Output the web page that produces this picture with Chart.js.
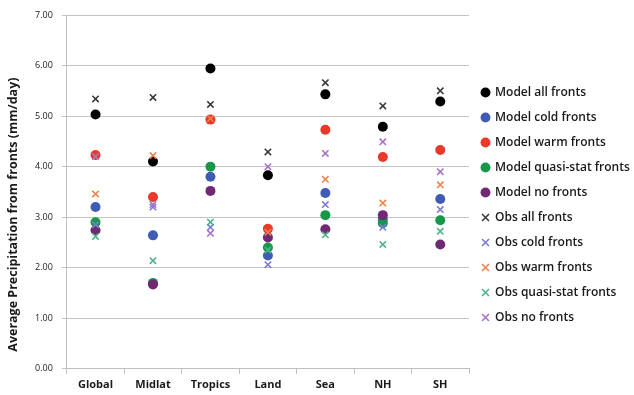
<!DOCTYPE html>
<html>
<head>
<meta charset="utf-8">
<script src="https://cdn.jsdelivr.net/npm/chart.js@4"></script>
<style>
html,body{margin:0;padding:0;background:#fff;}
#wrap{width:634px;height:395px;}
</style>
</head>
<body>
<div id="wrap"><canvas id="c" width="634" height="395"></canvas></div>
<script>
const categories = ['Global','Midlat','Tropics','Land','Sea','NH','SH'];
const yTicks = [0,1,2,3,4,5,6,7];

const modelAll   = [5.03, 4.10, 5.94, 3.83, 5.43, 4.79, 5.29];
const modelCold  = [3.20, 2.64, 3.80, 2.24, 3.48, 2.95, 3.36];
const modelWarm  = [4.23, 3.40, 4.93, 2.77, 4.73, 4.19, 4.33];
const modelQuasi = [2.90, 1.70, 4.00, 2.40, 3.04, 2.88, 2.94];
const modelNo    = [2.74, 1.67, 3.52, 2.60, 2.76, 3.04, 2.46];
const obsAll     = [5.34, 5.37, 5.23, 4.29, 5.66, 5.20, 5.50];
const obsCold    = [2.85, 3.20, 2.80, 2.06, 3.25, 2.80, 3.15];
const obsWarm    = [3.46, 4.22, 4.95, 2.70, 3.75, 3.28, 3.64];
const obsQuasi   = [2.62, 2.14, 2.90, 2.35, 2.65, 2.46, 2.72];
const obsNo      = [4.20, 3.25, 2.68, 4.00, 4.26, 4.49, 3.90];

const seriesNames = ['Model all fronts','Model cold fronts','Model warm fronts','Model quasi-stat fronts','Model no fronts',
  'Obs all fronts','Obs cold fronts','Obs warm fronts','Obs quasi-stat fronts','Obs no fronts'];
const seriesData = [modelAll, modelCold, modelWarm, modelQuasi, modelNo, obsAll, obsCold, obsWarm, obsQuasi, obsNo];
const seriesColors = ['#000000','#3F5BB5','#E8392B','#17974A','#702A73','#3A3A3A','#7B7BD6','#F0824A','#4DB38A','#A874C4'];

const datasets = seriesNames.map((name, i) => {
  const isObs = i >= 5;
  return {
    label: name,
    data: seriesData[i],
    showLine: false,
    pointStyle: isObs ? 'crossRot' : 'circle',
    pointRadius: isObs ? 4.5 : 5,
    pointHoverRadius: isObs ? 4.5 : 5,
    pointBorderWidth: isObs ? 1.6 : 0,
    borderWidth: isObs ? 1.6 : 0,
    backgroundColor: seriesColors[i],
    borderColor: seriesColors[i],
    order: 20 - i
  };
});

const font = 'Open Sans';
new Chart(document.getElementById('c'), {
  type: 'line',
  data: { labels: categories, datasets },
  options: {
    responsive: false,
    animation: false,
    events: [],
    layout: { padding: { top: 15, left: 6, right: 0, bottom: 0 } },
    plugins: {
      tooltip: { enabled: false },
      legend: {
        position: 'right',
        align: 'center',
        maxWidth: 165,
        labels: {
          usePointStyle: true,
          boxWidth: 7,
          boxHeight: 7,
          padding: 13,
          color: '#1a1a1a',
          font: { family: font, size: 12, weight: '600' },
          sort: (a, b) => a.datasetIndex - b.datasetIndex
        }
      }
    },
    scales: {
      x: {
        type: 'category',
        offset: true,
        grid: { display: true, drawOnChartArea: false, drawTicks: true, tickLength: 5, offset: true, color: '#BFBFBF' },
        border: { display: true, color: '#BFBFBF' },
        ticks: { color: '#1a1a1a', font: { family: font, size: 11, weight: 'bold' }, padding: 4 }
      },
      y: {
        min: 0, max: 7,
        afterBuildTicks(axis) { axis.ticks = yTicks.map(v => ({ value: v })); },
        grid: { color: '#C4C4C4', lineWidth: 1, drawTicks: true, tickLength: 5 },
        border: { display: true, color: '#BFBFBF' },
        ticks: { color: '#1a1a1a', font: { family: font, size: 9 }, padding: 9,
          callback: v => Number(v).toFixed(2) },
        title: { display: true, text: 'Average Precipitation from fronts (mm/day)              ', color: '#1a1a1a',
          font: { family: font, size: 12.5, weight: 'bold' }, padding: { top: 0, bottom: 5 } }
      }
    }
  }
});
</script>
</body>
</html>
